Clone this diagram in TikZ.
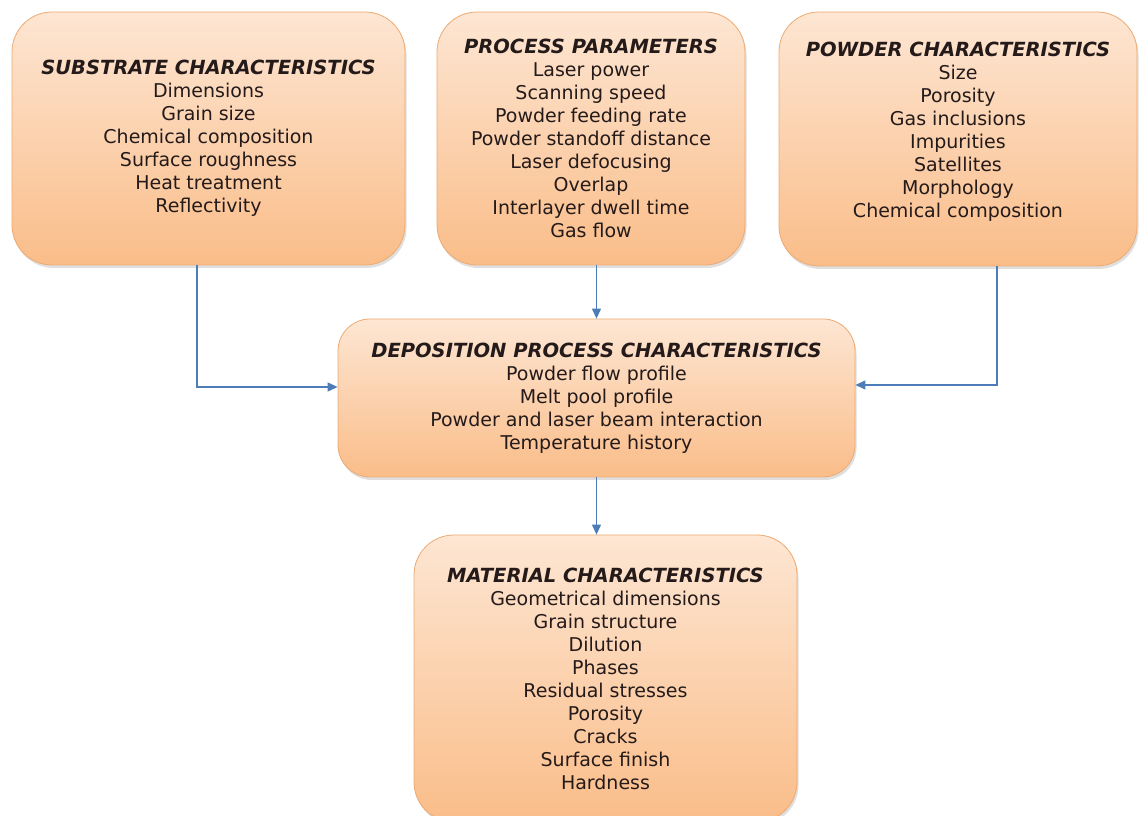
\documentclass[tikz,border=0pt]{standalone}
\usepackage{fontspec}
\setmainfont{DejaVu Sans}
\usetikzlibrary{arrows.meta,shadows}
\definecolor{boxtop}{HTML}{FDE6D3}
\definecolor{boxbot}{HTML}{FABD89}
\definecolor{boxline}{HTML}{EDAA72}
\definecolor{inktext}{HTML}{241A1A}
\definecolor{connblue}{HTML}{4D7DB8}
\tikzset{
  card/.style={draw=boxline, line width=0.8pt, rounded corners=40pt,
    top color=boxtop, bottom color=boxbot,
    drop shadow={shadow xshift=1.5pt, shadow yshift=-3pt, opacity=0.25},
    align=center, text=inktext, inner sep=0pt,
    font=\fontsize{19}{23}\selectfont},
  conn/.style={draw=connblue, line width=1.1pt,
    -{Triangle[length=10pt,width=9pt]}},
}
\newcommand{\hd}[1]{{\fontsize{19.5}{23}\selectfont\textbf{\textit{#1}}}}
\begin{document}
\begin{tikzpicture}[x=1pt,y=1pt]
\useasboundingbox (0,0) rectangle (1141,816);

\node[card, minimum width=393pt, minimum height=253pt] (sub) at (208.5,677.5)
  {\hd{SUBSTRATE CHARACTERISTICS}\\ Dimensions\\ Grain size\\ Chemical composition\\
   Surface roughness\\ Heat treatment\\ Reflectivity};

\node[card, minimum width=308pt, minimum height=253pt] (par) at (591,677.5)
  {\hd{PROCESS PARAMETERS}\\ Laser power\\ Scanning speed\\ Powder feeding rate\\
   Powder standoff distance\\ Laser defocusing\\ Overlap\\ Interlayer dwell time\\ Gas flow};

\node[card, minimum width=358pt, minimum height=254pt] (pow) at (958,677)
  {\hd{POWDER CHARACTERISTICS}\\ Size\\ Porosity\\ Gas inclusions\\ Impurities\\
   Satellites\\ Morphology\\ Chemical composition\\[-5pt]\mbox{}};

\node[card, rounded corners=32pt, minimum width=517pt, minimum height=158pt] (dep) at (596.5,418)
  {\hd{DEPOSITION PROCESS CHARACTERISTICS}\\ Powder flow profile\\ Melt pool profile\\
   Powder and laser beam interaction\\ Temperature history};

\node[card, minimum width=383pt, minimum height=287pt] (mat) at (605.5,137.5)
  {\hd{MATERIAL CHARACTERISTICS}\\ Geometrical dimensions\\ Grain structure\\ Dilution\\
   Phases\\ Residual stresses\\ Porosity\\ Cracks\\ Surface finish\\ Hardness};

% connectors into and out of the deposition box
\draw[conn] ([xshift=-11.5pt]sub.south) |- ([yshift=11pt]dep.west);
\draw[conn] (dep.north |- par.south) -- (dep.north);
\draw[conn] ([xshift=39pt]pow.south) |- ([yshift=13pt]dep.east);
\draw[conn] (dep.south) -- (dep.south |- mat.north);
\end{tikzpicture}
\end{document}
